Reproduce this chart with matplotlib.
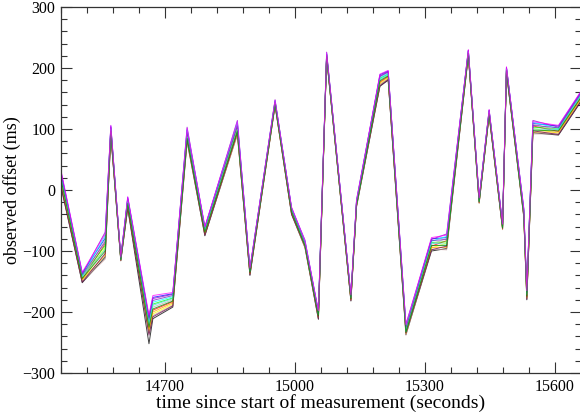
import matplotlib
matplotlib.use("Agg")
import matplotlib.pyplot as plt
from matplotlib.ticker import MultipleLocator

# measurement times (seconds) where the offsets were sampled
time_s = [14460, 14509, 14562, 14575, 14598, 14614, 14663, 14672, 14718, 14751,
          14792, 14867, 14896, 14954, 14992, 15023, 15054, 15073, 15129, 15142,
          15196, 15215, 15256, 15315, 15350, 15400, 15425, 15448, 15479, 15488,
          15528, 15535, 15549, 15608, 15660]

# observed offset (ms) per probe
off_black = [5, -152, -110, 90, -116, -30, -252, -211, -192, 80, -75, 92, -140, 139, -40, -94, -212, 217,
             -182, -27, 170, 180, -237, -100, -96, 220, -21, 122, -64, 192, -44, -180, 94, 90, 145]
off_red = [15, -146, -88, 96, -113, -23, -228, -197, -183, 92, -70, 104, -136, 144, -36, -88, -207, 221,
           -179, -21, 177, 186, -228, -92, -83, 224, -16, 126, -59, 196, -36, -175, 105, 96, 151]
off_green = [22, -141, -91, 100, -113, -18, -218, -187, -177, 90, -65, 102, -132, 143, -32, -88, -203, 221,
             -176, -22, 183, 190, -229, -86, -85, 226, -17, 128, -60, 198, -38, -170, 103, 100, 156]
off_blue = [30, -136, -79, 105, -111, -12, -208, -176, -170, 98, -61, 109, -129, 146, -29, -85, -199, 223,
            -173, -19, 189, 195, -224, -80, -78, 229, -14, 131, -57, 201, -33, -166, 109, 105, 161]
off_yellow = [11, -148, -94, 93, -113, -26, -233, -203, -187, 89, -72, 100, -137, 142, -37, -89, -209, 220,
              -180, -23, 174, 183, -230, -95, -87, 222, -18, 124, -61, 194, -39, -177, 101, 93, 149]
off_brown = [9, -150, -113, 92, -116, -27, -235, -206, -189, 78, -73, 90, -138, 138, -38, -95, -210, 216,
             -181, -28, 173, 182, -238, -97, -98, 221, -22, 123, -65, 193, -45, -178, 92, 92, 147]
off_grey = [18, -144, -82, 98, -112, -21, -223, -192, -180, 96, -68, 107, -134, 145, -34, -86, -205, 223,
            -177, -19, 180, 188, -225, -89, -79, 225, -15, 127, -58, 197, -34, -173, 108, 98, 154]
off_violet = [28, -138, -69, 103, -110, -14, -210, -178, -171, 103, -62, 114, -130, 148, -30, -82, -200, 226,
              -174, -16, 187, 194, -220, -81, -72, 229, -12, 130, -55, 200, -30, -167, 114, 103, 160]
off_cyan = [24, -140, -75, 101, -111, -16, -215, -184, -175, 99, -64, 111, -131, 146, -31, -84, -202, 224,
            -175, -18, 184, 191, -223, -84, -76, 227, -14, 129, -57, 199, -32, -169, 111, 101, 157]
off_magenta = [32, -135, -72, 106, -110, -11, -205, -173, -168, 101, -60, 112, -128, 147, -28, -83, -198, 225,
               -172, -17, 190, 196, -221, -78, -74, 230, -13, 132, -56, 202, -31, -165, 112, 106, 162]
off_orange = [13, -147, -107, 95, -115, -25, -230, -200, -185, 82, -71, 93, -137, 139, -37, -93, -208, 217,
              -179, -26, 176, 185, -235, -94, -94, 223, -21, 125, -64, 195, -43, -176, 95, 95, 150]
off_indigo = [26, -139, -85, 102, -112, -15, -213, -181, -173, 94, -63, 105, -131, 144, -31, -87, -201, 222,
              -174, -20, 186, 193, -227, -83, -81, 228, -16, 130, -59, 200, -35, -168, 106, 102, 158]
off_maroon = [7, -151, -104, 91, -115, -29, -238, -208, -190, 83, -74, 95, -139, 140, -39, -92, -211, 218,
              -181, -25, 171, 181, -234, -98, -92, 221, -20, 123, -63, 193, -42, -179, 97, 91, 146]
off_turq = [20, -142, -97, 99, -114, -19, -220, -189, -178, 87, -66, 99, -133, 142, -33, -90, -204, 219,
            -176, -24, 181, 189, -232, -87, -89, 226, -19, 128, -61, 198, -40, -171, 100, 99, 155]
off_green4 = [17, -145, -100, 97, -114, -22, -225, -195, -182, 85, -69, 97, -135, 141, -35, -91, -206, 219,
              -178, -25, 179, 187, -233, -91, -91, 224, -19, 126, -62, 196, -41, -174, 98, 97, 152]

# grace default colour map
series = [
    (off_black, "#000000"), (off_red, "#ff0000"), (off_green, "#00ff00"), (off_blue, "#0000ff"),
    (off_yellow, "#ffff00"), (off_brown, "#bc8f8f"), (off_grey, "#b4b4b4"), (off_violet, "#9400d3"),
    (off_cyan, "#00ffff"), (off_orange, "#ffa500"), (off_indigo, "#7221bc"),
    (off_maroon, "#670748"), (off_turq, "#40e0d0"), (off_green4, "#008b00"), (off_magenta, "#ff00ff"),
]

plt.rcParams["font.family"] = ["Liberation Serif", "DejaVu Serif"]

fig = plt.figure(figsize=(5.8, 4.12), dpi=100)
ax = fig.add_axes([61 / 580, 39 / 412, 520 / 580, 366 / 412])

for vals, col in series:
    ax.plot(time_s, vals, color=col, lw=0.7, alpha=0.75)

ax.set_xlim(14460, 15660)
ax.set_ylim(-300, 300)
ax.xaxis.set_major_locator(MultipleLocator(300))
ax.xaxis.set_minor_locator(MultipleLocator(60))
ax.yaxis.set_major_locator(MultipleLocator(100))
ax.yaxis.set_minor_locator(MultipleLocator(20))
ax.tick_params(which="both", direction="in", top=True, right=True, colors="#333333",
               labelcolor="black", labelsize=11.5, width=0.8)
ax.tick_params(which="major", length=8, pad=4)
ax.tick_params(which="minor", length=4)
for s in ax.spines.values():
    s.set_color("#333333")
    s.set_linewidth(0.9)

ax.set_xlabel("time since start of measurement (seconds)", fontsize=14, labelpad=0)
ax.set_ylabel("observed offset (ms)", fontsize=13, labelpad=1)

fig.savefig("out.png", dpi=100)
